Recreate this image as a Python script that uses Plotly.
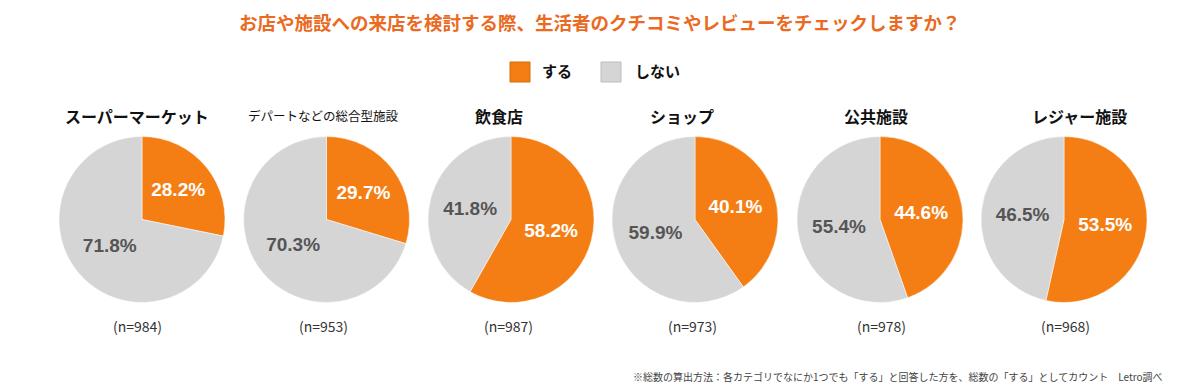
import plotly.graph_objects as go

# page offset compensation (browser body margin)
OFF = 8
W, H = 1200 - OFF, 390 - OFF

title_text = "お店や施設への来店を検討する際、生活者のクチコミやレビューをチェックしますか？"
categories = ["スーパーマーケット", "デパートなどの総合型施設", "飲食店", "ショップ", "公共施設", "レジャー施設"]
labels = ["する", "しない"]
suru = [28.2, 29.7, 58.2, 40.1, 44.6, 53.5]
shinai = [71.8, 70.3, 41.8, 59.9, 55.4, 46.5]
n_values = [984, 953, 987, 973, 978, 968]
footnote = "※総数の算出方法：各カテゴリでなにか1つでも「する」と回答した方を、総数の「する」としてカウント　Letro調べ"

ORANGE = "#F47E14"
GRAY = "#D5D5D5"
TITLE_COLOR = "#EA6A22"
JP = "Noto Sans CJK JP"

# layout (pixels in the 1200x390 page)
pie_cx = [142, 326.5, 511, 695, 880, 1064]
pie_cy = 219.5
pie_r = 83
title_cx = [137, 323, 499, 682, 876, 1079]
n_cx = [137, 323, 508, 692, 881, 1065]


def px(x):
    return (x - OFF) / W


def py(y):
    return 1 - (y - OFF) / H


fig = go.Figure()
for i, cat in enumerate(categories):
    cx = pie_cx[i]
    fig.add_trace(go.Pie(
        labels=labels,
        values=[suru[i], shinai[i]],
        sort=False,
        direction="clockwise",
        rotation=0,
        marker=dict(colors=[ORANGE, GRAY], line=dict(color="white", width=0.5)),
        texttemplate="%{value:.1f}%",
        textinfo="text",
        textposition="inside",
        insidetextorientation="horizontal",
        textfont=dict(family="Liberation Sans", size=19, weight="bold", color=["white", "#555555"]),
        hoverinfo="label+value",
        domain=dict(x=[px(cx - pie_r), px(cx + pie_r)], y=[py(pie_cy + pie_r), py(pie_cy - pie_r)]),
        showlegend=False,
    ))

annotations = []
annotations.append(dict(text=f"<b>{title_text}</b>", x=px(600), y=py(8), xref="paper", yref="paper",
                        xanchor="center", yanchor="top", showarrow=False, borderpad=0,
                        font=dict(family=JP, size=18.5, color=TITLE_COLOR)))
for i, cat in enumerate(categories):
    if i == 1:
        txt, size = cat, 12.5
    else:
        txt, size = f"<b>{cat}</b>", 16
    annotations.append(dict(text=txt, x=px(title_cx[i]), y=py(116), xref="paper", yref="paper",
                            xanchor="center", yanchor="middle", showarrow=False,
                            font=dict(family=JP, size=size, color="#111111")))
    annotations.append(dict(text=f"(n={n_values[i]})", x=px(n_cx[i]), y=py(326), xref="paper", yref="paper",
                            xanchor="center", yanchor="middle", showarrow=False,
                            font=dict(family=JP, size=14, color="#333333")))
legend_items = [(labels[0], ORANGE, "#D86A0A", 510, 540), (labels[1], GRAY, "#BDBDBD", 601, 633)]
shapes = []
for lab, col, border, sx, tx in legend_items:
    shapes.append(dict(type="rect", xref="paper", yref="paper",
                       x0=px(sx), x1=px(sx + 20), y0=py(82), y1=py(62),
                       fillcolor=col, line=dict(color=border, width=1)))
    annotations.append(dict(text=f"<b>{lab}</b>", x=px(tx), y=py(71), xref="paper", yref="paper",
                            xanchor="left", yanchor="middle", showarrow=False,
                            font=dict(family=JP, size=15, color="#111111")))
annotations.append(dict(text=footnote, x=px(1165), y=py(376), xref="paper", yref="paper",
                        xanchor="right", yanchor="middle", showarrow=False,
                        font=dict(family=JP, size=10, color="#444444")))

fig.update_layout(
    width=W, height=H,
    margin=dict(l=0, r=0, t=0, b=0),
    paper_bgcolor="white",
    plot_bgcolor="white",
    annotations=annotations,
    shapes=shapes,
    showlegend=False,
)

fig.write_html("out.html")
